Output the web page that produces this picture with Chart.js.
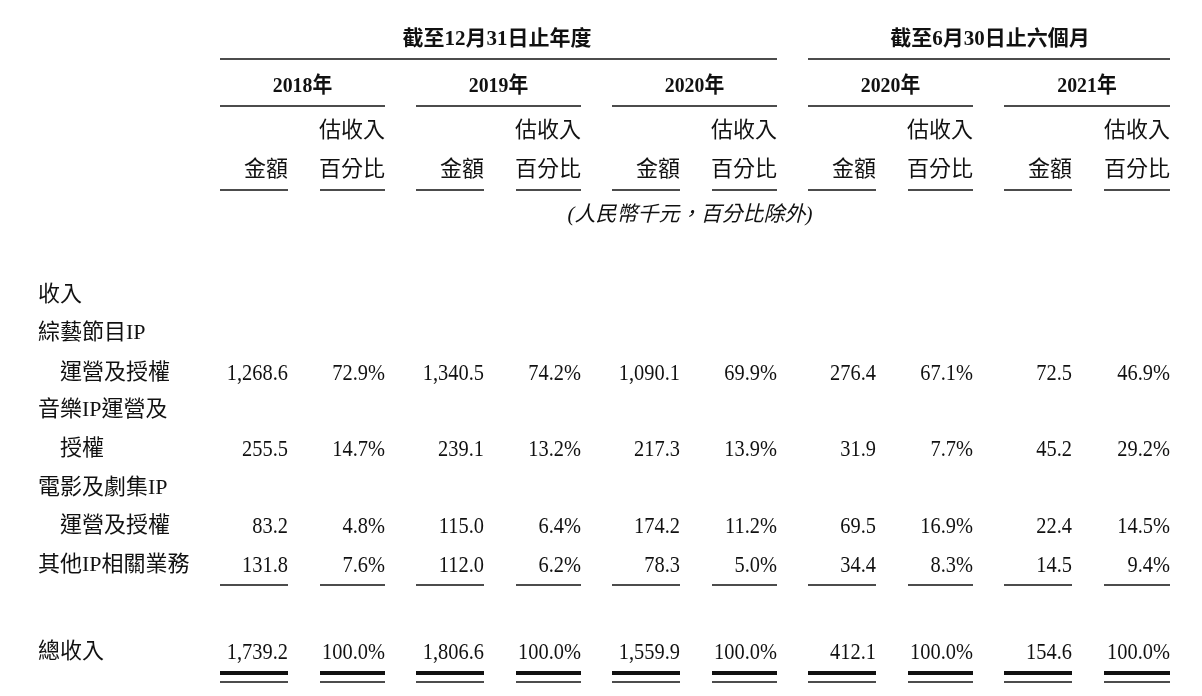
<!DOCTYPE html>
<html><head><meta charset="utf-8">
<script src="https://cdn.jsdelivr.net/npm/chart.js@4/dist/chart.umd.min.js"></script>
<style>html,body{margin:0;background:#fff}#w{width:1202px;height:696px}</style>
</head><body><div id="w"><canvas id="c"></canvas></div>
<script>
const groupHeaders = ["截至12月31日止年度", "截至6月30日止六個月"];
const years = ["2018年", "2019年", "2020年", "2020年", "2021年"];
const rowLabels = ["收入", "綜藝節目IP", "　運營及授權", "音樂IP運營及", "　授權", "電影及劇集IP", "　運營及授權", "其他IP相關業務", "總收入"];
const amounts = [
  null, null,
  ["1,268.6", "1,340.5", "1,090.1", "276.4", "72.5"],
  null,
  ["255.5", "239.1", "217.3", "31.9", "45.2"],
  null,
  ["83.2", "115.0", "174.2", "69.5", "22.4"],
  ["131.8", "112.0", "78.3", "34.4", "14.5"],
  ["1,739.2", "1,806.6", "1,559.9", "412.1", "154.6"]
];
const pcts = [
  null, null,
  ["72.9%", "74.2%", "69.9%", "67.1%", "46.9%"],
  null,
  ["14.7%", "13.2%", "13.9%", "7.7%", "29.2%"],
  null,
  ["4.8%", "6.4%", "11.2%", "16.9%", "14.5%"],
  ["7.6%", "6.2%", "5.0%", "8.3%", "9.4%"],
  ["100.0%", "100.0%", "100.0%", "100.0%", "100.0%"]
];
const unitNote = "(人民幣千元，百分比除外)";

const rowY = [295, 333, 373, 410, 449, 488, 526, 565, 652];
const amtRight = [288, 484, 680, 876, 1072];
const pctRight = [385, 581, 777, 973, 1170];
const amtLeft = [220, 416, 612, 808, 1004];
const pctLeft = [320, 516, 712, 908, 1104];

const F = '"Liberation Serif","Noto Sans CJK TC",serif';
const tablePlugin = {
  id: 'tbl',
  afterDraw(chart) {
    const ctx = chart.ctx, X = v => chart.scales.x.getPixelForValue(v), Y = v => chart.scales.y.getPixelForValue(v);
    ctx.save(); ctx.fillStyle = '#111'; ctx.strokeStyle = '#111'; ctx.textBaseline = 'middle';
    const line = (x1, x2, y, w) => { ctx.lineWidth = w; ctx.beginPath(); ctx.moveTo(X(x1), Y(y)); ctx.lineTo(X(x2), Y(y)); ctx.stroke(); };
    const txt = (t, x, y, sx) => { ctx.save(); ctx.translate(X(x), Y(y)); ctx.scale(sx, 1); ctx.fillText(t, 0, 0); ctx.restore(); };
    ctx.font = 'bold 21px ' + F; ctx.textAlign = 'center';
    ctx.fillText(groupHeaders[0], X(497), Y(40)); line(220, 777, 59, 1.5);
    ctx.fillText(groupHeaders[1], X(990), Y(40)); line(808, 1170, 59, 1.5);
    for (let i = 0; i < 5; i++) {
      ctx.font = 'bold 22px ' + F; ctx.textAlign = 'center';
      txt(years[i], (amtLeft[i] + pctRight[i]) / 2, 86, 0.9);
      line(amtLeft[i], pctRight[i], 106, 1.5);
      ctx.font = '22px ' + F; ctx.textAlign = 'right';
      ctx.fillText('估收入', X(pctRight[i]), Y(131));
      ctx.fillText('百分比', X(pctRight[i]), Y(170));
      ctx.fillText('金額', X(amtRight[i]), Y(170));
      line(amtLeft[i], amtRight[i], 190, 1.5); line(pctLeft[i], pctRight[i], 190, 1.5);
      line(amtLeft[i], amtRight[i], 585, 1.3); line(pctLeft[i], pctRight[i], 585, 1.3);
      line(amtLeft[i], amtRight[i], 673, 4); line(pctLeft[i], pctRight[i], 673, 4);
      line(amtLeft[i], amtRight[i], 682, 1.5); line(pctLeft[i], pctRight[i], 682, 1.5);
    }
    ctx.font = 'italic 21px ' + F; ctx.textAlign = 'center';
    ctx.fillText(unitNote, X(690), Y(215));
    rowLabels.forEach((lab, r) => {
      ctx.font = '22px ' + F; ctx.textAlign = 'left';
      ctx.fillText(lab, X(38), Y(rowY[r]));
      if (amounts[r]) {
        ctx.font = '24px ' + F; ctx.textAlign = 'right';
        for (let i = 0; i < 5; i++) {
          txt(amounts[r][i], amtRight[i], rowY[r] + 1, 0.85);
          txt(pcts[r][i], pctRight[i], rowY[r] + 1, 0.85);
        }
      }
    });
    ctx.restore();
  }
};
new Chart(document.getElementById('c'), {
  type: 'scatter',
  data: { datasets: [{ data: [], pointRadius: 0 }] },
  options: {
    responsive: true, maintainAspectRatio: false, animation: false,
    layout: { padding: 0 },
    plugins: { legend: { display: false }, tooltip: { enabled: false } },
    scales: {
      x: { type: 'linear', min: 0, max: 1202, display: false },
      y: { type: 'linear', min: 0, max: 696, reverse: true, display: false }
    }
  },
  plugins: [tablePlugin]
});
</script></body></html>
